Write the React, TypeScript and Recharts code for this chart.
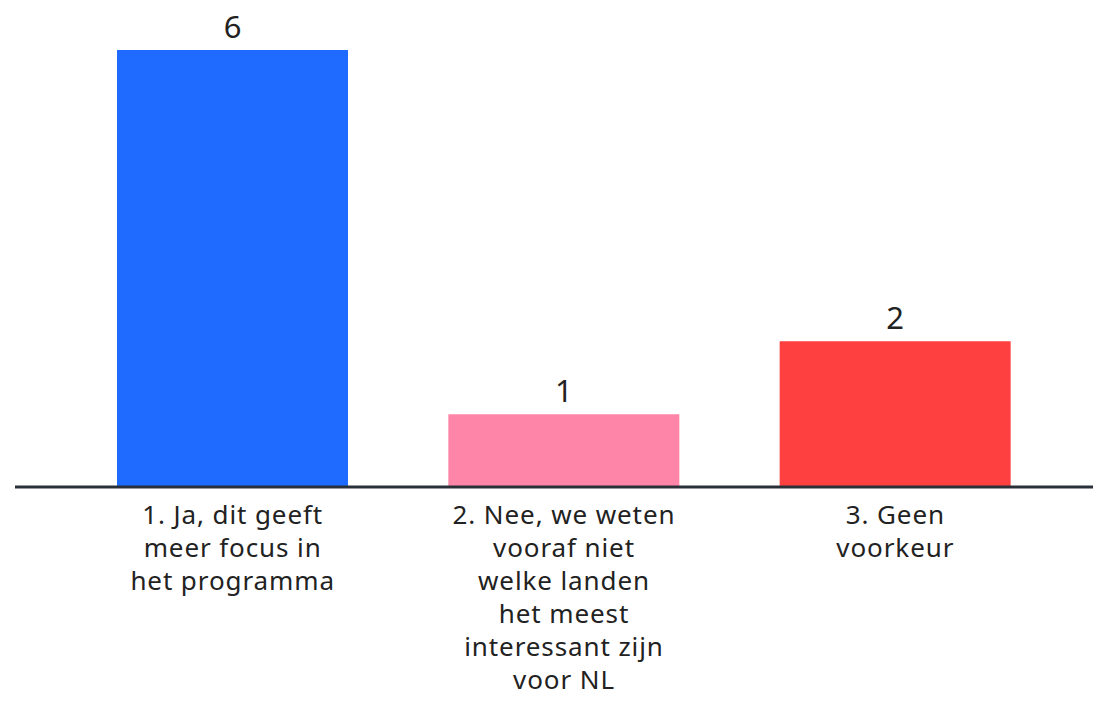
import { BarChart, Bar, XAxis, YAxis, Cell, LabelList } from "recharts";

const categories = [
  "1. Ja, dit geeft\nmeer focus in\nhet programma",
  "2. Nee, we weten\nvooraf niet\nwelke landen\nhet meest\ninteressant zijn\nvoor NL",
  "3. Geen\nvoorkeur",
];
const counts = [6, 1, 2];
const colors = ["#1f6bff", "#ff85a8", "#ff4040"];

const data = categories.map((name, i) => ({ name, count: counts[i] }));

const FONT = "'Noto Sans', sans-serif";

function MultiLineTick({ x, y, payload }: any) {
  const lines = String(payload.value).split("\n");
  return (
    <text
      x={x}
      y={y}
      textAnchor="middle"
      fill="#222"
      fontSize={26}
      letterSpacing={0.9}
      fontFamily={FONT}
    >
      {lines.map((ln, i) => (
        <tspan key={i} x={x} dy={i === 0 ? 29 : 33}>
          {ln}
        </tspan>
      ))}
    </text>
  );
}

export default function App() {
  return (
    <div style={{ position: "absolute", left: 0, top: 0, background: "#fff" }}>
      <BarChart
        width={1093}
        height={702}
        data={data}
        margin={{ top: 50, right: 0, bottom: 0, left: 15 }}
        barCategoryGap={50}
      >
        <XAxis
          dataKey="name"
          height={215}
          interval={0}
          tickLine={false}
          axisLine={{ stroke: "#2a3038", strokeWidth: 3 }}
          padding={{ left: 52, right: 32 }}
          tick={<MultiLineTick />}
        />
        <YAxis hide domain={[0, 6]} />
        <Bar dataKey="count" isAnimationActive={false}>
          {data.map((_, i) => (
            <Cell key={i} fill={colors[i]} />
          ))}
          <LabelList
            dataKey="count"
            position="top"
            offset={12}
            fill="#222"
            fontSize={31}
            fontFamily={FONT}
          />
        </Bar>
      </BarChart>
    </div>
  );
}
